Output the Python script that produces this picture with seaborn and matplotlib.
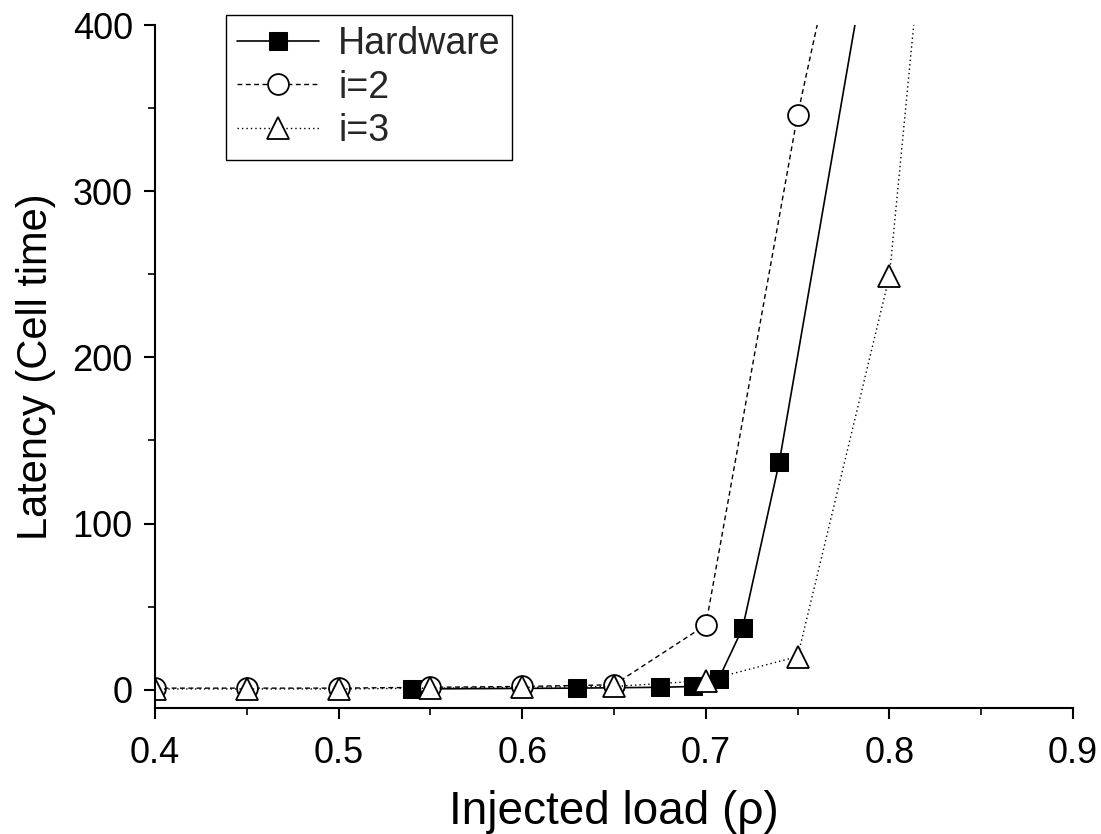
import matplotlib
matplotlib.use("Agg")
import matplotlib.pyplot as plt
from matplotlib.ticker import MultipleLocator
import seaborn as sns

hw_x = [0.54, 0.63, 0.675, 0.693, 0.707, 0.72, 0.74, 0.80]
hw_y = [0.5, 1.0, 1.5, 2.0, 6.5, 37, 137, 520]

i2_x = [0.40, 0.45, 0.50, 0.55, 0.60, 0.65, 0.70, 0.75, 0.80]
i2_y = [1.0, 1.0, 1.0, 1.5, 2.0, 3.0, 39, 346, 600]

i3_x = [0.40, 0.45, 0.50, 0.55, 0.60, 0.65, 0.70, 0.75, 0.80, 0.85]
i3_y = [0.5, 0.5, 0.5, 1.0, 1.5, 2.0, 5.5, 20, 249, 820]

sns.set_style("ticks")
plt.rcParams['font.family'] = ['Liberation Sans', 'DejaVu Sans']

fig = plt.figure(figsize=(11.01, 8.34), dpi=100)
ax = fig.add_axes([0.1408, 0.151, 0.8338, 0.819])

sns.lineplot(x=hw_x, y=hw_y, ax=ax, color='black', linestyle='-', lw=1.2,
             marker='s', markersize=13, markerfacecolor='black', markeredgecolor='black',
             label='Hardware', sort=False)
sns.lineplot(x=i2_x, y=i2_y, ax=ax, color='black', linestyle=(0, (3.5, 2.5)), lw=1.0,
             marker='o', markersize=15, markerfacecolor='white', markeredgecolor='black',
             markeredgewidth=1.3, label='i=2', sort=False)
sns.lineplot(x=i3_x, y=i3_y, ax=ax, color='black', linestyle=(0, (1, 2.2)), lw=1.0,
             marker='^', markersize=16, markerfacecolor='white', markeredgecolor='black',
             markeredgewidth=1.3, label='i=3', sort=False)

ax.set_xlim(0.4, 0.9)
ax.set_ylim(-11, 400)
ax.set_xticks([0.4, 0.5, 0.6, 0.7, 0.8, 0.9])
ax.set_xticklabels(['0.4', '0.5', '0.6', '0.7', '0.8', '0.9'])
ax.xaxis.set_minor_locator(MultipleLocator(0.05))
ax.yaxis.set_major_locator(MultipleLocator(100))
ax.yaxis.set_minor_locator(MultipleLocator(50))
ax.tick_params(axis='both', which='major', direction='out', length=8, width=1.5,
               labelsize=26, color='black', labelcolor='black')
ax.tick_params(axis='x', which='major', pad=12)
ax.tick_params(axis='y', which='major', pad=8)
ax.tick_params(axis='both', which='minor', direction='out', length=5, width=1.2, color='black')
sns.despine(ax=ax)
for s in ['left', 'bottom']:
    ax.spines[s].set_color('black')
    ax.spines[s].set_linewidth(1.5)

ax.set_xlabel('Injected load (ρ)', fontsize=33, labelpad=14, color='black')
ax.set_ylabel('Latency (Cell time)', fontsize=30, labelpad=12, color='black')

handles, labels = ax.get_legend_handles_labels()
leg = ax.legend(handles, labels,
                loc='upper left', bbox_to_anchor=(0.077, 1.015), fontsize=27,
                frameon=True, fancybox=False, framealpha=1, edgecolor='black',
                handlelength=2.2, borderpad=0.3, labelspacing=0.2, handletextpad=0.5,
                borderaxespad=0)
leg.get_frame().set_linewidth(1.0)

fig.savefig('out.png', dpi=100, facecolor='white')
